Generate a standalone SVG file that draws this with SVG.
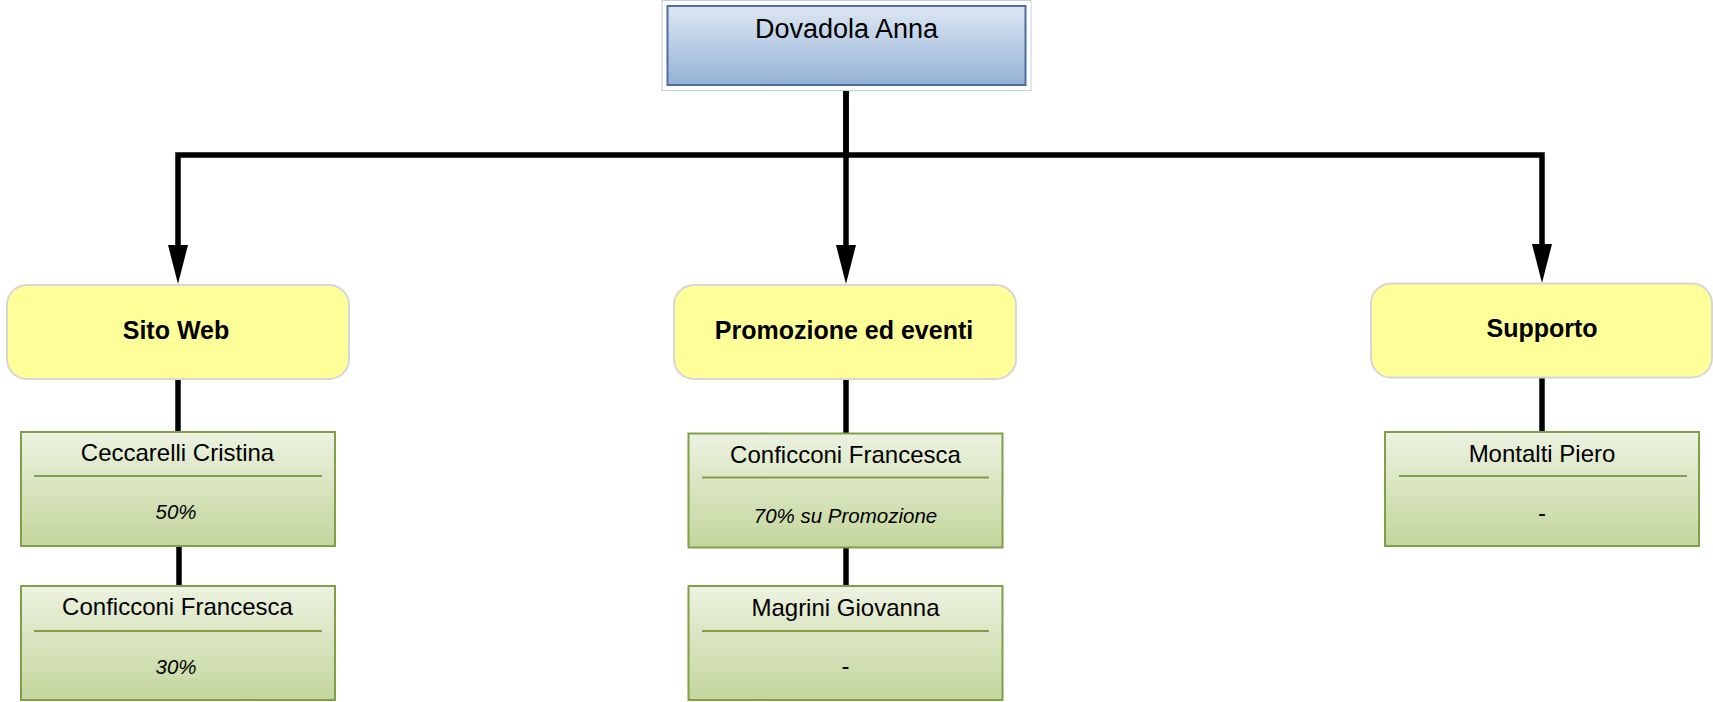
<svg xmlns="http://www.w3.org/2000/svg" width="1713" height="702" viewBox="0 0 1713 702">
  <defs>
    <linearGradient id="gBlue" x1="0" y1="0" x2="0" y2="1">
      <stop offset="0" stop-color="#dde7f3"/>
      <stop offset="1" stop-color="#94b2d6"/>
    </linearGradient>
    <linearGradient id="gGreen" x1="0" y1="0" x2="0" y2="1">
      <stop offset="0" stop-color="#ecf2e0"/>
      <stop offset="1" stop-color="#c3d69c"/>
    </linearGradient>
    <marker id="arrow" markerUnits="userSpaceOnUse" markerWidth="40" markerHeight="22" refX="0" refY="11" orient="auto" viewBox="0 0 40 22">
      <path d="M0,1 L39,11 L0,21 z" fill="#000"/>
    </marker>
    <style>
      text { font-family: "Liberation Sans", Arial, sans-serif; fill: #000; text-anchor: middle; }
      .top { font-size: 27px; }
      .head { font-size: 25px; font-weight: bold; }
      .name { font-size: 24px; }
      .sub { font-size: 20.5px; font-style: italic; }
      .dash { font-size: 24px; }
      .yel { fill: #ffff99; stroke: #d6d6d6; stroke-width: 2; }
      .grn { fill: url(#gGreen); stroke: #7f9f48; stroke-width: 2; }
      .div { stroke: #7f9f48; stroke-width: 2; }
      .con { fill: none; stroke: #000; stroke-width: 5.5; }
    </style>
  </defs>

  <g id="connectors">
    <path class="con" d="M846,91 V155 H178 V245" marker-end="url(#arrow)"/>
    <path class="con" d="M846,91 V245" marker-end="url(#arrow)"/>
    <path class="con" d="M846,155 H1542 V244" marker-end="url(#arrow)"/>
    <path class="con" d="M178,379 V432"/>
    <path class="con" d="M179,546 V586"/>
    <path class="con" d="M846,379 V433.5"/>
    <path class="con" d="M846,547.5 V586"/>
    <path class="con" d="M1542,377.5 V432"/>
  </g>

  <g id="node-dovadola">
    <rect x="662" y="0.5" width="369" height="90" fill="#fff" stroke="#bccfe6" stroke-width="1"/>
    <rect x="667.5" y="6" width="358" height="79" fill="url(#gBlue)" stroke="#4d6da3" stroke-width="2"/>
    <text class="top" x="846.5" y="38">Dovadola Anna</text>
  </g>

  <g id="node-sito">
    <rect class="yel" x="7" y="285" width="342" height="94" rx="20"/>
    <text class="head" x="176" y="339">Sito Web</text>
  </g>

  <g id="node-promozione">
    <rect class="yel" x="674" y="285" width="342" height="94" rx="20"/>
    <text class="head" x="844" y="339">Promozione ed eventi</text>
  </g>

  <g id="node-supporto">
    <rect class="yel" x="1371" y="283.5" width="341" height="94" rx="20"/>
    <text class="head" x="1542" y="337">Supporto</text>
  </g>

  <g id="node-ceccarelli">
    <rect class="grn" x="21" y="432" width="314" height="114"/>
    <line class="div" x1="34" y1="476" x2="322" y2="476"/>
    <text class="name" x="177.5" y="461">Ceccarelli Cristina</text>
    <text class="sub" x="176" y="518.5">50%</text>
  </g>

  <g id="node-conficconi-sito">
    <rect class="grn" x="21" y="586" width="314" height="114"/>
    <line class="div" x1="34" y1="631" x2="322" y2="631"/>
    <text class="name" x="177.5" y="615">Conficconi Francesca</text>
    <text class="sub" x="176" y="673.5">30%</text>
  </g>

  <g id="node-conficconi-promo">
    <rect class="grn" x="688.5" y="433.5" width="314" height="114"/>
    <line class="div" x1="702" y1="477.5" x2="989" y2="477.5"/>
    <text class="name" x="845.5" y="463">Conficconi Francesca</text>
    <text class="sub" x="845.5" y="523">70% su Promozione</text>
  </g>

  <g id="node-magrini">
    <rect class="grn" x="688.5" y="586" width="314" height="114"/>
    <line class="div" x1="702" y1="631" x2="989" y2="631"/>
    <text class="name" x="845.5" y="616">Magrini Giovanna</text>
    <text class="dash" x="845.5" y="674">-</text>
  </g>

  <g id="node-montalti">
    <rect class="grn" x="1385" y="432" width="314" height="114"/>
    <line class="div" x1="1399" y1="476" x2="1687" y2="476"/>
    <text class="name" x="1542" y="461.5">Montalti Piero</text>
    <text class="dash" x="1542" y="521">-</text>
  </g>
</svg>
